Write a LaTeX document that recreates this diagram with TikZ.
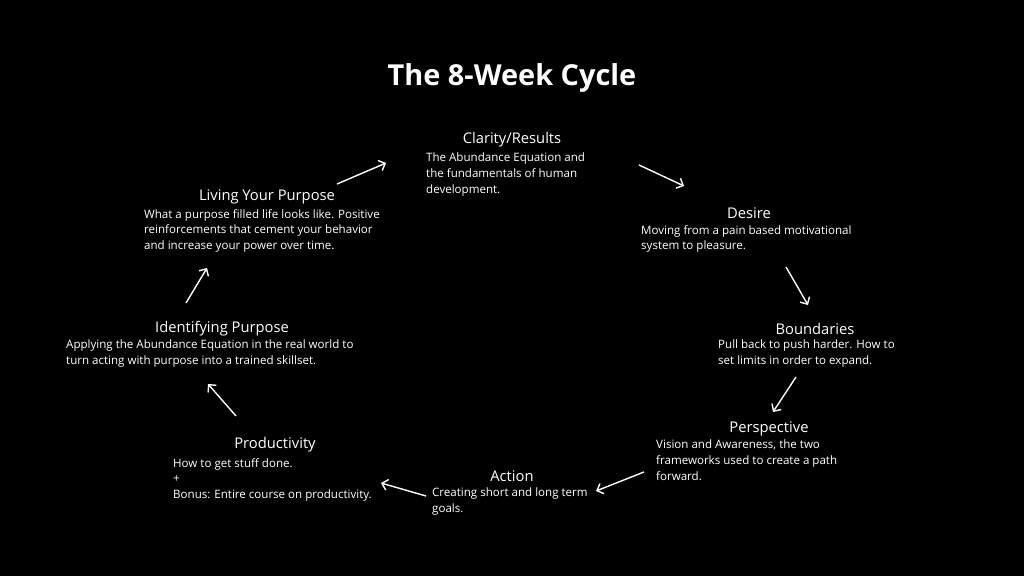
\documentclass[tikz,border=0pt]{standalone}
\usepackage{fontspec}
\setmainfont{Open Sans}
\usetikzlibrary{arrows.meta}

\tikzset{
	head/.style={text=white, font=\fontsize{14.8}{17}\selectfont},
	body/.style={text=white, font=\fontsize{11.6}{15.7}\selectfont, align=left, anchor=north west, inner sep=0pt},
	cyc/.style={draw=white, line width=1.4pt, -{Straight Barb[length=5.5pt,width=11pt]}},
}

\begin{document}
\begin{tikzpicture}[x=1bp,y=-1bp]
	\fill[black] (0,0) rectangle (1024,576);
	\node[text=white, font=\fontsize{29}{32}\selectfont\bfseries] (T) at (512,78) {The 8-Week Cycle};

	\node[head] (C) at (512,140) {Clarity/Results};
	\node[body] (Ct) at (426,153) {The Abundance Equation and\\the fundamentals of human\\development.};
	\node[head] (D) at (749,213) {Desire};
	\node[body] (Dt) at (641,225) {Moving from a pain based motivational\\system to pleasure.};
	\node[head] (B) at (815,329) {Boundaries};
	\node[body] (Bt) at (718,340) {Pull back to push harder. How to\\set limits in order to expand.};
	\node[head] (P) at (769,429) {Perspective};
	\node[body] (Pt) at (656,440) {Vision and Awareness, the two\\frameworks used to create a path\\forward.};
	\node[head] (A) at (512,476) {Action};
	\node[body] (At) at (432,488) {Creating short and long term\\goals.};
	\node[head] (Pr) at (275,445) {Productivity};
	\node[body] (Prt) at (173,458) {How to get stuff done.\\+\\Bonus: Entire course on productivity.};
	\node[head] (I) at (222,329) {Identifying Purpose};
	\node[body] (It) at (66,340) {Applying the Abundance Equation in the real world to\\turn acting with purpose into a trained skillset.};
	\node[head] (L) at (267,197) {Living Your Purpose};
	\node[body] (Lt) at (144,209) {What a purpose filled life looks like. Positive\\reinforcements that cement your behavior\\and increase your power over time.};

	\coordinate (LC1) at (337,184);  \coordinate (LC2) at (386,163);
	\coordinate (CD1) at (639,165);  \coordinate (CD2) at (684,186);
	\coordinate (DB1) at (786,267);  \coordinate (DB2) at (808,305);
	\coordinate (BP1) at (796,377);  \coordinate (BP2) at (773,412);
	\coordinate (PA1) at (644,472);  \coordinate (PA2) at (596,491);
	\coordinate (APr1) at (426,496); \coordinate (APr2) at (381,483);
	\coordinate (PrI1) at (236,416); \coordinate (PrI2) at (208,384);
	\coordinate (IL1) at (186,303);  \coordinate (IL2) at (207,268);

	\path (LC1) edge[cyc] (LC2);
	\path (CD1) edge[cyc] (CD2);
	\path (DB1) edge[cyc] (DB2);
	\path (BP1) edge[cyc] (BP2);
	\path (PA1) edge[cyc] (PA2);
	\path (APr1) edge[cyc] (APr2);
	\path (PrI1) edge[cyc] (PrI2);
	\path (IL1) edge[cyc] (IL2);
\end{tikzpicture}
\end{document}
